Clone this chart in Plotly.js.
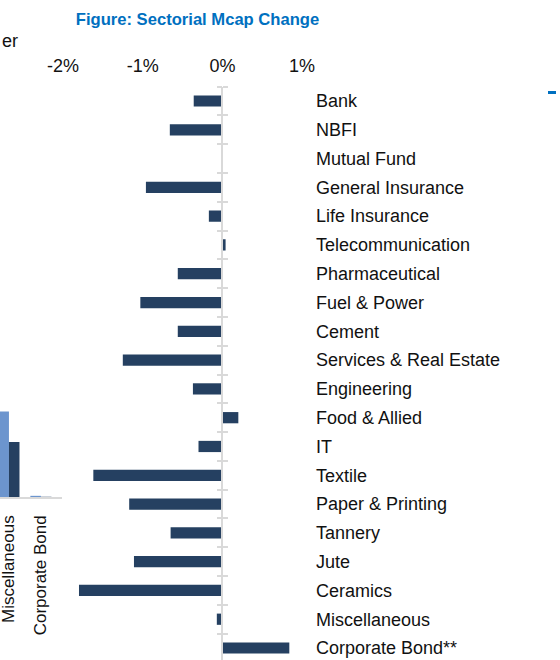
<!DOCTYPE html>
<html>
<head>
<meta charset="utf-8">
<script src="https://cdn.plot.ly/plotly-3.0.1.min.js"></script>
<style>html,body{margin:0;padding:0;background:#fff;}#chart{width:560px;height:660px;}</style>
</head>
<body>
<div id="chart"></div>
<script>
// Main chart data: sectorial market-cap change (%)
const sectors = ["Bank","NBFI","Mutual Fund","General Insurance","Life Insurance","Telecommunication","Pharmaceutical","Fuel & Power","Cement","Services & Real Estate","Engineering","Food & Allied","IT","Textile","Paper & Printing","Tannery","Jute","Ceramics","Miscellaneous","Corporate Bond**"];
const mcapChange = [-0.36,-0.66,-0.015,-0.96,-0.17,0.04,-0.56,-1.03,-0.56,-1.25,-0.37,0.20,-0.30,-1.62,-1.17,-0.65,-1.11,-1.80,-0.07,0.84];
const xTickVals = [-2,-1,0,1];
const xTickText = ["-2%","-1%","0%","1%"];

// Partially visible neighbouring chart (cropped at left edge)
const leftCats = ["Miscellaneous","Corporate Bond"];
const leftSeriesA = [7.3, 0.1];
const leftSeriesB = [4.7, 0.02];

const FONT = 'Arial, "Liberation Sans", sans-serif';
const W = 560, H = 660;
const axisGray = '#d9d9d9';
const barColor = '#254061';

// geometry
const zeroPx = 222.4;
const xPx0 = 40, xPx1 = 310, pxPerUnit = 79.67;
const xr0 = -(zeroPx - xPx0) / pxPerUnit;
const xr1 = (xPx1 - zeroPx) / pxPerUnit;
const topPx = 86.6, rowPx = 28.79;
const yBottomVal = -0.5 + (H - topPx) / rowPx;

const traces = [
  {type:'bar', orientation:'h', x: mcapChange, y: sectors, xaxis:'x', yaxis:'y',
   marker:{color: barColor}, width:0.39, hoverinfo:'x+y', showlegend:false},
  {type:'scatter', mode:'markers', x: mcapChange, y: sectors, xaxis:'x', yaxis:'y3',
   marker:{opacity:0}, hoverinfo:'skip', showlegend:false},
  {type:'bar', x: leftCats, y: leftSeriesA, xaxis:'x2', yaxis:'y2', name:'Previous',
   marker:{color:'#6C95CE'}, showlegend:false},
  {type:'bar', x: leftCats, y: leftSeriesB, xaxis:'x2', yaxis:'y2', name:'Current',
   marker:{color: barColor}, showlegend:false}
];

const layout = {
  width: W, height: H,
  margin:{l:0, r:0, t:0, b:0},
  paper_bgcolor:'#ffffff', plot_bgcolor:'rgba(0,0,0,0)',
  font:{family: FONT, size:18, color:'#111'},
  barmode:'group', bargap:0.34, bargroupgap:0,
  title:{text:'<b>Figure: Sectorial Mcap Change</b>', x:197.5/W, xanchor:'center',
         y:1-19/H, yanchor:'middle', font:{family: FONT, size:16.6, color:'#0070C0'}},
  xaxis:{domain:[xPx0/W, xPx1/W], range:[xr0, xr1], side:'top', anchor:'y',
         tickvals: xTickVals, ticktext: xTickText, showgrid:false, zeroline:false,
         showline:false, ticks:'', ticklabelstandoff:10, tickfont:{size:18, color:'#111'}},
  yaxis:{domain:[0, (H-topPx)/H], type:'category', categoryorder:'array', categoryarray: sectors,
         range:[yBottomVal, -0.5], autorange:false, anchor:'free', position: zeroPx/W, side:'right',
         showline:true, linecolor: axisGray, linewidth:2, ticks:'outside', ticklen:5,
         tickwidth:2, tickcolor: axisGray, tickson:'boundaries', showgrid:false,
         ticklabelstandoff:89, tickfont:{size:18, color:'#111'}},
  yaxis3:{overlaying:'y', type:'category', categoryorder:'array', categoryarray: sectors,
         range:[yBottomVal, -0.5], autorange:false, anchor:'free', position: zeroPx/W, side:'left',
         showline:false, ticks:'outside', ticklen:5, tickwidth:2, tickcolor: axisGray,
         tickson:'boundaries', showgrid:false, showticklabels:false},
  xaxis2:{domain:[0, 62/W], anchor:'y2', type:'category', range:[-0.28, 1.66], autorange:false,
          showline:true, linecolor: axisGray, linewidth:1.5, ticks:'', tickangle:-90,
          ticklabelstandoff:10, tickfont:{size:17, color:'#111'}, showgrid:false},
  yaxis2:{domain:[(H-497)/H, (H-380)/H], anchor:'x2', range:[0,10], autorange:false, visible:false},
  annotations:[
    {text:'er', xref:'paper', yref:'paper', x:0, xanchor:'left', y:1-41/H, yanchor:'middle',
     showarrow:false, font:{family: FONT, size:18, color:'#111'}}
  ],
  shapes:[
    {type:'line', xref:'paper', yref:'paper', x0:548/W, x1:556/W, y0:1-92.5/H, y1:1-92.5/H,
     line:{color:'#0070C0', width:3}}
  ]
};

Plotly.newPlot('chart', traces, layout, {displayModeBar:false, staticPlot:true});
</script>
</body>
</html>
